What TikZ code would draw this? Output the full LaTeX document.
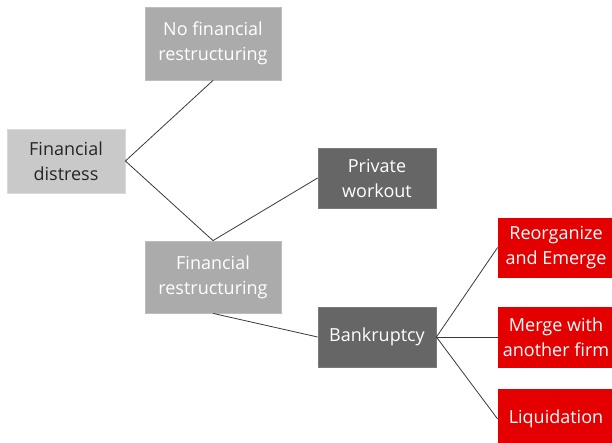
\documentclass[tikz,border=0pt]{standalone}
\usepackage{fontspec}
\setmainfont{Open Sans}
\definecolor{lgfill}{HTML}{C9C9C9}
\definecolor{lgdraw}{HTML}{D9D9D9}
\definecolor{mgfill}{HTML}{ABABAB}
\definecolor{mgdraw}{HTML}{BDBDBD}
\definecolor{dgfill}{HTML}{666666}
\definecolor{dgdraw}{HTML}{7A7A7A}
\definecolor{redfill}{HTML}{E40000}
\definecolor{txtdark}{HTML}{262626}
\definecolor{linec}{HTML}{3A3A3A}
\tikzset{
  boxbase/.style={rectangle, inner sep=0pt, align=center, font=\fontsize{18}{25}\selectfont, line width=0.8pt},
  lightbox/.style={boxbase, fill=lgfill, draw=lgdraw, text=txtdark},
  midbox/.style={boxbase, fill=mgfill, draw=mgdraw, text=white},
  darkbox/.style={boxbase, fill=dgfill, draw=dgdraw, text=white},
  redbox/.style={boxbase, fill=redfill, draw=redfill, text=white},
  conn/.style={draw=linec, line width=0.8pt}
}
\begin{document}
\begin{tikzpicture}[x=1pt,y=-1pt]
\useasboundingbox (0,0) rectangle (612,443);
\fill[white] (0,0) rectangle (612,443);
\node[lightbox, minimum width=118pt, minimum height=64pt] (fd) at (66,161) {Financial\\distress};
\node[midbox, minimum width=136pt, minimum height=73pt] (nfr) at (213,43.5) {No financial\\restructuring};
\node[midbox, minimum width=136pt, minimum height=72pt] (fr) at (213,277) {Financial\\restructuring};
\node[darkbox, minimum width=118pt, minimum height=60pt] (pw) at (377,178) {Private\\workout};
\node[darkbox, minimum width=118pt, minimum height=60pt] (bk) at (377,337) {Bankruptcy};
\node[redbox, minimum width=116pt, minimum height=59pt] (re) at (556,247.5) {Reorganize\\and Emerge};
\node[redbox, minimum width=116pt, minimum height=60pt] (mg) at (556,337) {Merge with\\another firm};
\node[redbox, minimum width=116pt, minimum height=60pt] (lq) at (556,419) {Liquidation};
\draw[conn] (fd.east) -- (nfr.south);
\draw[conn] (fd.east) -- (fr.north);
\draw[conn] (fr.north) -- (pw.west);
\draw[conn] (fr.south) -- (bk.west);
\draw[conn] (bk.east) -- (re.west);
\draw[conn] (bk.east) -- (mg.west);
\draw[conn] (bk.east) -- (lq.west);
\end{tikzpicture}
\end{document}
